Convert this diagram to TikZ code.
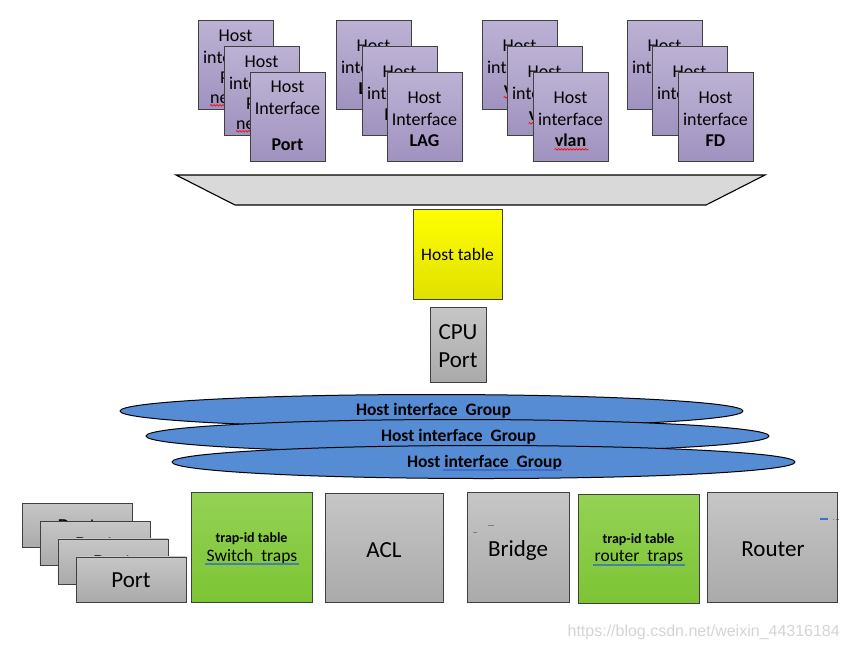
\documentclass[tikz,border=0pt]{standalone}
\usepackage{fontspec}
\setmainfont{Carlito}
\newfontfamily\wmfont{Liberation Sans}
\usetikzlibrary{shapes.geometric,decorations.pathmorphing}
\definecolor{purpT}{RGB}{188,178,212}
\definecolor{purpB}{RGB}{160,146,191}
\definecolor{grayT}{RGB}{198,198,198}
\definecolor{grayB}{RGB}{170,170,170}
\definecolor{greenT}{RGB}{148,210,84}
\definecolor{greenB}{RGB}{124,196,52}
\definecolor{yelT}{RGB}{255,255,0}
\definecolor{yelB}{RGB}{224,224,0}
\definecolor{ellblue}{RGB}{85,140,212}
\definecolor{trapgray}{RGB}{217,217,217}
\definecolor{boxline}{RGB}{64,64,64}
\definecolor{teal}{RGB}{74,128,160}
\definecolor{ulblue}{RGB}{60,110,210}
\definecolor{wmgray}{RGB}{212,212,212}
\begin{document}
\begin{tikzpicture}[x=1pt,y=-1pt,
  pbox/.style={draw=boxline, line width=0.9pt, top color=purpT, bottom color=purpB,
    anchor=north west, minimum width=75pt, minimum height=89pt, inner sep=0pt},
  gbox/.style={draw=boxline, line width=0.9pt, top color=grayT, bottom color=grayB,
    anchor=north west, inner sep=0pt},
  grbox/.style={draw=boxline, line width=0.9pt, top color=greenT, bottom color=greenB,
    anchor=north west, inner sep=0pt},
  ybox/.style={draw=boxline, line width=0.9pt, top color=yelT, bottom color=yelB,
    anchor=north west, inner sep=0pt},
  ell/.style={ellipse, draw=black, line width=1pt, fill=ellblue,
    minimum width=623pt, minimum height=33pt, inner sep=0pt},
  ptxt/.style={font=\fontsize{18}{20}\selectfont, anchor=base, inner sep=0pt},
  pbold/.style={font=\fontsize{18}{20}\selectfont\bfseries, anchor=base, inner sep=0pt},
  bigtxt/.style={font=\fontsize{23}{26}\selectfont, anchor=base, inner sep=0pt},
  etxt/.style={font=\fontsize{17.5}{19}\selectfont\bfseries, anchor=base, inner sep=0pt},
  tidtxt/.style={font=\fontsize{14}{16}\selectfont\bfseries, anchor=base, inner sep=0pt},
  traptxt/.style={font=\fontsize{17.5}{20}\selectfont, anchor=base, inner sep=0pt},
  redwave/.style={draw=red, line width=0.6pt, decorate,
    decoration={snake, segment length=3pt, amplitude=0.8pt}}
]
\useasboundingbox (0,0) rectangle (850,648);

% ---------- Group 1 (Port) ----------
\node[pbox] (g1a) at (198,20) {};
\node[ptxt] (g1a1) at (235.5,41) {Host};
\node[ptxt] (g1a2) at (235.5,63) {interface};
\node[ptxt] (g1a3) at (235.5,83) {Port};
\node[ptxt] (g1a4) at (235.5,103) {netdev};
\draw[redwave] (g1a4.south west) ++(0,2) -- ++(42,0);
\node[pbox] (g1b) at (224,46) {};
\node[ptxt] (g1b1) at (261.5,67) {Host};
\node[ptxt] (g1b2) at (261.5,89) {interface};
\node[ptxt] (g1b3) at (261.5,109) {Port};
\node[ptxt] (g1b4) at (261.5,129) {netdev};
\draw[redwave] (g1b4.south west) ++(0,2) -- ++(42,0);
\node[pbox] (g1c) at (250,72) {};
\node[ptxt] (g1c1) at (287.5,92) {Host};
\node[ptxt] (g1c2) at (287.5,114) {Interface};
\node[pbold] (g1c3) at (287.5,150) {Port};

% ---------- Group 2 (LAG) ----------
\node[pbox] (g2a) at (336,20) {};
\node[ptxt] (g2a1) at (373.5,51) {Host};
\node[ptxt] (g2a2) at (373.5,73) {interface};
\node[pbold] (g2a3) at (373.5,94) {LAG};
\node[pbox] (g2b) at (362,46) {};
\node[ptxt] (g2b1) at (399.5,77) {Host};
\node[ptxt] (g2b2) at (399.5,99) {interface};
\node[pbold] (g2b3) at (399.5,120) {LAG};
\node[pbox] (g2c) at (387,72) {};
\node[ptxt] (g2c1) at (424.5,103) {Host};
\node[ptxt] (g2c2) at (424.5,125) {Interface};
\node[pbold] (g2c3) at (424.5,146) {LAG};

% ---------- Group 3 (vlan) ----------
\node[pbox] (g3a) at (482,20) {};
\node[ptxt] (g3a1) at (519.5,51) {Host};
\node[ptxt] (g3a2) at (519.5,73) {interface};
\node[pbold] (g3a3) at (519.5,94) {vlan};
\draw[redwave] (g3a3.south west) ++(0,3) -- ++(34,0);
\node[pbox] (g3b) at (507,46) {};
\node[ptxt] (g3b1) at (544.5,77) {Host};
\node[ptxt] (g3b2) at (544.5,99) {interface};
\node[pbold] (g3b3) at (544.5,120) {vlan};
\draw[redwave] (g3b3.south west) ++(0,3) -- ++(34,0);
\node[pbox] (g3c) at (533,72) {};
\node[ptxt] (g3c1) at (570.5,103) {Host};
\node[ptxt] (g3c2) at (570.5,125) {interface};
\node[pbold] (g3c3) at (570.5,146) {vlan};
\draw[redwave] (g3c3.south west) ++(0,3) -- ++(34,0);

% ---------- Group 4 (FD) ----------
\node[pbox] (g4a) at (627,20) {};
\node[ptxt] (g4a1) at (664.5,51) {Host};
\node[ptxt] (g4a2) at (664.5,73) {interface};
\node[pbold] (g4a3) at (664.5,94) {FD};
\node[pbox] (g4b) at (652,46) {};
\node[ptxt] (g4b1) at (689.5,77) {Host};
\node[ptxt] (g4b2) at (689.5,99) {interface};
\node[pbold] (g4b3) at (689.5,120) {FD};
\node[pbox] (g4c) at (678,72) {};
\node[ptxt] (g4c1) at (715.5,103) {Host};
\node[ptxt] (g4c2) at (715.5,125) {interface};
\node[pbold] (g4c3) at (715.5,146) {FD};

% ---------- Trapezoid ----------
\coordinate (tz1) at (176,175);
\coordinate (tz2) at (765,175);
\coordinate (tz3) at (706,205);
\coordinate (tz4) at (235,205);
\draw[fill=trapgray, line width=1.1pt, line join=miter] (tz1) -- (tz2) -- (tz3) -- (tz4) -- cycle;

% ---------- Host table and CPU port ----------
\node[ybox, minimum width=89pt, minimum height=90pt] (htab) at (413,209) {};
\node[font=\fontsize{17.5}{20}\selectfont, anchor=base, inner sep=0pt] (htabt) at (457.5,260) {Host table};
\node[gbox, minimum width=56pt, minimum height=75pt] (cpu) at (430,307) {};
\node[bigtxt] (cpu1) at (458,339.5) {CPU};
\node[bigtxt] (cpu2) at (458,367.5) {Port};

% ---------- Host interface groups ----------
\node[ell] (e1) at (431.5,411) {};
\node[ell] (e2) at (457.5,436) {};
\node[ell] (e3) at (483.5,462) {};
\node[etxt] (e1t) at (433.5,415.5) {Host interface\ \ Group};
\node[etxt] (e2t) at (458.5,441) {Host interface\ \ Group};
\node[etxt] (e3t) at (484.5,467) {Host interface\ \ Group};
\coordinate (ul1) at (443,470);
\coordinate (ul2) at (562,470);
\draw[ulblue, line width=2.5pt] (ul1) -- (ul2);

% ---------- Bottom row ----------
\node[gbox, minimum width=110pt, minimum height=44pt] (p1) at (22,503) {};
\node[bigtxt] (p1t) at (77,534) {Port};
\node[gbox, minimum width=110pt, minimum height=44pt] (p2) at (39.5,521) {};
\node[bigtxt] (p2t) at (94.5,552) {Port};
\node[gbox, minimum width=110pt, minimum height=45pt] (p3) at (57.5,538.5) {};
\node[bigtxt] (p3t) at (112.5,570) {Port};
\node[gbox, minimum width=110pt, minimum height=45pt] (p4) at (76,556.5) {};
\node[bigtxt] (p4t) at (131,587) {Port};

\node[grbox, minimum width=121pt, minimum height=110pt] (sw) at (191,492) {};
\node[tidtxt] (swt1) at (251.5,542.5) {trap-id table};
\node[traptxt] (swt2) at (252,561) {Switch~ traps};
\coordinate (swu1) at (205,564);
\coordinate (swu2) at (299,564);
\draw[teal, line width=2.5pt] (swu1) -- (swu2);

\node[gbox, minimum width=118pt, minimum height=109pt] (acl) at (325,493) {};
\node[bigtxt] (aclt) at (384,557.5) {ACL};

\node[gbox, minimum width=102pt, minimum height=110pt] (br) at (467,492) {};
\node[bigtxt] (brt) at (518,556) {Bridge};
\coordinate (bm1) at (488,525.5);
\coordinate (bm2) at (494,525.5);
\draw[gray, line width=0.5pt] (bm1) -- (bm2);
\coordinate (bm3) at (473,532.5);
\coordinate (bm4) at (477,532.5);
\draw[gray, line width=0.5pt] (bm3) -- (bm4);

\node[grbox, minimum width=121pt, minimum height=109pt] (rt) at (578,494) {};
\node[tidtxt] (rtt1) at (638.5,543) {trap-id table};
\node[traptxt] (rtt2) at (639,561.5) {router~ traps};
\coordinate (rtu1) at (593,565);
\coordinate (rtu2) at (685,565);
\draw[teal, line width=2.5pt] (rtu1) -- (rtu2);

\node[gbox, minimum width=130pt, minimum height=110pt] (ro) at (707,492) {};
\node[bigtxt] (rot) at (773,556) {Router};
\coordinate (rm1) at (820,518.5);
\coordinate (rm2) at (828,518.5);
\draw[ulblue, line width=2pt] (rm1) -- (rm2);
\coordinate (rm3) at (833,519);
\coordinate (rm4) at (840,519);
\draw[gray, line width=0.5pt, dotted] (rm3) -- (rm4);

% ---------- watermark ----------
\node[font=\wmfont\fontsize{16}{18}\selectfont, text=wmgray, anchor=base east, inner sep=0pt] (wm) at (840,636) {https://blog.csdn.net/weixin\_44316184};
\end{tikzpicture}
\end{document}
